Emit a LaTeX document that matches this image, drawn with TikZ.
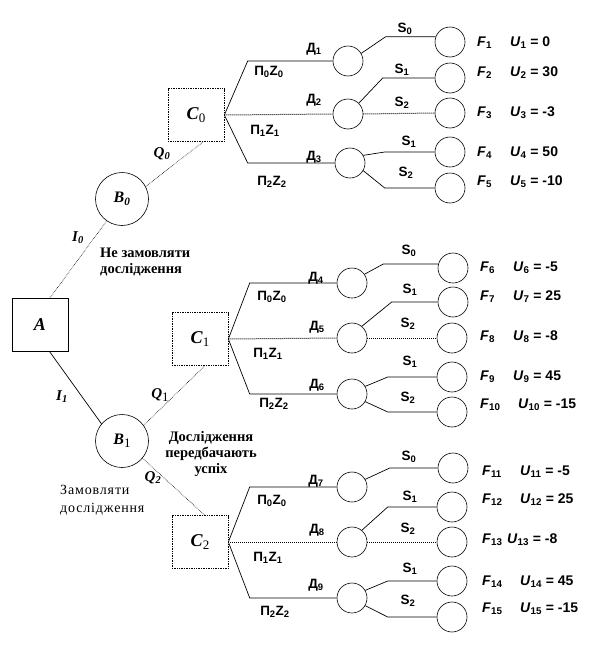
\documentclass[tikz,border=0pt]{standalone}
\usepackage{fontspec}
\setmainfont{Liberation Serif}
\setsansfont{Liberation Sans}
\newcommand\sbs[1]{\textsubscript{#1}}
\newcommand\bsub[1]{\raisebox{-0.35ex}{\fontsize{13}{13}\selectfont\upshape\mdseries #1}}
\begin{document}
\begin{tikzpicture}[x=1pt,y=-1pt,
  ln/.style={line width=0.7pt},
  dl/.style={line width=1pt, densely dotted},
  tl/.style={line width=0.6pt, densely dotted},
  sq/.style={draw, line width=0.7pt, minimum width=56pt, minimum height=53pt, inner sep=0pt, font=\fontsize{18}{18}\selectfont\bfseries\itshape},
  dsq/.style={sq, densely dotted},
  big/.style={draw, circle, minimum size=53pt, inner sep=0pt, line width=0.6pt, font=\fontsize{16}{16}\selectfont\bfseries\itshape},
  sm/.style={draw, circle, minimum size=30pt, inner sep=0pt, line width=0.6pt},
  lab/.style={font=\sffamily\bfseries\fontsize{13.5}{13.5}\selectfont, inner sep=0pt},
  plab/.style={font=\sffamily\bfseries\fontsize{13.5}{13.5}\selectfont, inner sep=0pt},
  flab/.style={font=\sffamily\bfseries\fontsize{14}{14}\selectfont, inner sep=0pt, anchor=west},
  qlab/.style={font=\fontsize{15}{15}\selectfont\bfseries\itshape, inner sep=0pt},
  note/.style={font=\fontsize{14.5}{16}\selectfont\bfseries, inner sep=0pt}
]
\useasboundingbox (0,0) rectangle (612,656);

% decision / chance nodes
\node[sq] (A) at (40,325) {A};
\node[big] (B0) at (122,199) {B\sbs{0}};
\node[big] (B1) at (122,441) {B\bsub{1}};
\node[dsq] (C0) at (196,115) {C\bsub{0}};
\node[dsq] (C1) at (200,339) {C\bsub{1}};
\node[dsq] (C2) at (200,542) {C\bsub{2}};

\node[sm] (D1) at (348,61) {};
\node[sm] (D2) at (348,114) {};
\node[sm] (D3) at (350,163) {};
\node[sm] (D4) at (352,283) {};
\node[sm] (D5) at (352,338) {};
\node[sm] (D6) at (352,394) {};
\node[sm] (D7) at (352,487) {};
\node[sm] (D8) at (352,542) {};
\node[sm] (D9) at (352,598) {};

\node[sm] (F1) at (450,42) {};
\node[sm] (F2) at (450,78) {};
\node[sm] (F3) at (450,113) {};
\node[sm] (F4) at (450,152) {};
\node[sm] (F5) at (450,188) {};
\node[sm] (F6) at (453,268) {};
\node[sm] (F7) at (453,302) {};
\node[sm] (F8) at (452,338) {};
\node[sm] (F9) at (452,377) {};
\node[sm] (F10) at (452,412) {};
\node[sm] (F11) at (453,468) {};
\node[sm] (F12) at (452,507) {};
\node[sm] (F13) at (452,542) {};
\node[sm] (F14) at (452,581) {};
\node[sm] (F15) at (452,617) {};

% main connectors
\draw[tl] (A.70) -- (B0.235);
\draw[ln] (A.-70) -- (B1.140);
\draw[tl] (B0.28) -- (C0.-75);
\draw[tl] (B1.36) -- (C1.-80);
\draw[tl] (B1.-40) -- (C2.80);

% C -> D
\draw[ln] (C0.east) -- ([xshift=-85pt]D1.west) -- (D1.west);
\draw[dl] (C0.east) -- (D2.west);
\draw[ln] (C0.east) -- ([xshift=-87pt]D3.west) -- (D3.west);
\draw[ln] (C1.east) -- ([xshift=-87pt]D4.west) -- (D4.west);
\draw[dl] (C1.east) -- (D5.west);
\draw[ln] (C1.east) -- ([xshift=-87pt]D6.west) -- (D6.west);
\draw[ln] (C2.east) -- ([xshift=-87pt]D7.west) -- (D7.west);
\draw[dl] (C2.east) -- (D8.west);
\draw[ln] (C2.east) -- ([xshift=-87pt]D9.west) -- (D9.west);

% D -> F
\draw[ln] (D1.30) -- ([xshift=-50pt]F1.160) -- (F1.160);
\draw[ln] (D2.45) -- ([xshift=-52pt]F2.west) -- (F2.west);
\draw[dl] (D2.east) -- (F3.west);
\draw[ln] (D3.30) -- ([xshift=-50pt]F4.west) -- (F4.west);
\draw[ln] (D3.-30) -- ([xshift=-50pt]F5.west) -- (F5.west);
\draw[ln] (D4.35) -- ([xshift=-55pt]F6.165) -- (F6.165);
\draw[ln] (D5.50) -- ([xshift=-46pt]F7.west) -- (F7.west);
\draw[dl] (D5.east) -- (F8.west);
\draw[ln] (D6.30) -- ([xshift=-49pt]F9.west) -- (F9.west);
\draw[ln] (D6.-30) -- ([xshift=-49pt]F10.west) -- (F10.west);
\draw[ln] (D7.30) -- ([xshift=-48pt]F11.west) -- (F11.west);
\draw[ln] (D8.50) -- ([xshift=-49pt]F12.west) -- (F12.west);
\draw[dl] (D8.east) -- (F13.west);
\draw[ln] (D9.30) -- ([xshift=-49pt]F14.west) -- (F14.west);
\draw[ln] (D9.-30) -- ([xshift=-49pt]F15.west) -- (F15.west);

% branch labels
\node[qlab] (i0) at (78,238) {I\sbs{0}};
\node[qlab] (i1) at (62,397) {I\sbs{1}};
\node[qlab] (q0) at (162,154) {Q\sbs{0}};
\node[qlab] (q1) at (160,395) {Q\bsub{1}};
\node[qlab] (q2) at (153,478) {Q\sbs{2}};

\node[note, align=left, anchor=west] (t1) at (100,262) {Не замовляти\\дослідження};
\node[note, align=center] (t2) at (211,454) {Дослідження\\передбачають\\успіх};
\node[font=\fontsize{14}{18}\selectfont\addfontfeatures{LetterSpace=6}, inner sep=0pt, align=left, anchor=west] (t3) at (60,500) {Замовляти\\дослідження};

% П labels
\node[plab] (p01) at (269,72) {П\sbs{0}Z\sbs{0}};
\node[plab] (p11) at (265,131) {П\sbs{1}Z\sbs{1}};
\node[plab] (p21) at (272,182) {П\sbs{2}Z\sbs{2}};
\node[plab] (p02) at (272,297) {П\sbs{0}Z\sbs{0}};
\node[plab] (p12) at (268,354) {П\sbs{1}Z\sbs{1}};
\node[plab] (p22) at (274,404) {П\sbs{2}Z\sbs{2}};
\node[plab] (p03) at (272,501) {П\sbs{0}Z\sbs{0}};
\node[plab] (p13) at (268,558) {П\sbs{1}Z\sbs{1}};
\node[plab] (p23) at (275,612) {П\sbs{2}Z\sbs{2}};

% Д labels
\node[lab] (d1) at (314,49) {Д\sbs{1}};
\node[lab] (d2) at (314,100) {Д\sbs{2}};
\node[lab] (d3) at (314,157) {Д\sbs{3}};
\node[lab] (d4) at (316,278) {Д\sbs{4}};
\node[lab] (d5) at (317,327) {Д\sbs{5}};
\node[lab] (d6) at (317,385) {Д\sbs{6}};
\node[lab] (d7) at (316,481) {Д\sbs{7}};
\node[lab] (d8) at (317,530) {Д\sbs{8}};
\node[lab] (d9) at (316,585) {Д\sbs{9}};

% S labels
\node[lab] (s1) at (405,29) {S\sbs{0}};
\node[lab] (s2) at (402,70) {S\sbs{1}};
\node[lab] (s3) at (402,103) {S\sbs{2}};
\node[lab] (s4) at (409,142) {S\sbs{1}};
\node[lab] (s5) at (406,173) {S\sbs{2}};
\node[lab] (s6) at (409,251) {S\sbs{0}};
\node[lab] (s7) at (410,290) {S\sbs{1}};
\node[lab] (s8) at (408,324) {S\sbs{2}};
\node[lab] (s9) at (410,362) {S\sbs{1}};
\node[lab] (s10) at (408,398) {S\sbs{2}};
\node[lab] (s11) at (409,457) {S\sbs{0}};
\node[lab] (s12) at (410,497) {S\sbs{1}};
\node[lab] (s13) at (408,529) {S\sbs{2}};
\node[lab] (s14) at (410,569) {S\sbs{1}};
\node[lab] (s15) at (408,601) {S\sbs{2}};

% F and U labels
\node[flab] (f1) at (477,43) {\textit{F}\sbs{1}};
\node[flab] (u1) at (510,43) {\textit{U}\sbs{1} = 0};
\node[flab] (f2) at (477,73) {\textit{F}\sbs{2}};
\node[flab] (u2) at (510,73) {\textit{U}\sbs{2} = 30};
\node[flab] (f3) at (477,113) {\textit{F}\sbs{3}};
\node[flab] (u3) at (510,113) {\textit{U}\sbs{3} = -3};
\node[flab] (f4) at (477,153) {\textit{F}\sbs{4}};
\node[flab] (u4) at (510,153) {\textit{U}\sbs{4} = 50};
\node[flab] (f5) at (477,182) {\textit{F}\sbs{5}};
\node[flab] (u5) at (510,182) {\textit{U}\sbs{5} = -10};

\node[flab] (f6) at (480,268) {\textit{F}\sbs{6}};
\node[flab] (u6) at (513,268) {\textit{U}\sbs{6} = -5};
\node[flab] (f7) at (480,297) {\textit{F}\sbs{7}};
\node[flab] (u7) at (513,297) {\textit{U}\sbs{7} = 25};
\node[flab] (f8) at (480,337) {\textit{F}\sbs{8}};
\node[flab] (u8) at (513,337) {\textit{U}\sbs{8} = -8};
\node[flab] (f9) at (480,377) {\textit{F}\sbs{9}};
\node[flab] (u9) at (513,377) {\textit{U}\sbs{9} = 45};
\node[flab] (f10) at (480,405) {\textit{F}\sbs{10}};
\node[flab] (u10) at (518,405) {\textit{U}\sbs{10} = -15};

\node[flab] (f11) at (482,472) {\textit{F}\sbs{11}};
\node[flab] (u11) at (520,472) {\textit{U}\sbs{11} = -5};
\node[flab] (f12) at (482,500) {\textit{F}\sbs{12}};
\node[flab] (u12) at (520,500) {\textit{U}\sbs{12} = 25};
\node[flab] (f13) at (482,540) {\textit{F}\sbs{13}};
\node[flab] (u13) at (507,540) {\textit{U}\sbs{13} = -8};
\node[flab] (f14) at (482,582) {\textit{F}\sbs{14}};
\node[flab] (u14) at (520,582) {\textit{U}\sbs{14} = 45};
\node[flab] (f15) at (482,609) {\textit{F}\sbs{15}};
\node[flab] (u15) at (520,609) {\textit{U}\sbs{15} = -15};
\end{tikzpicture}
\end{document}
